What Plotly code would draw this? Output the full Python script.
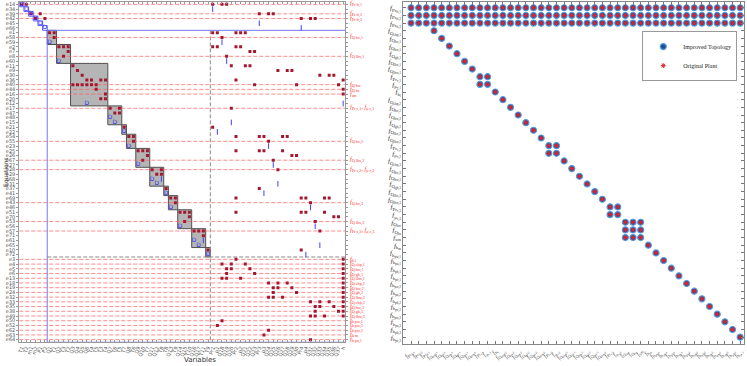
import plotly.graph_objects as go

# ---------------- LEFT PANEL DATA (structural matrix) ----------------
EQ_LABELS = ["e14","e34","e39","e42","e45","e66",
             "e1","e58","e59","e2","e7","e8","e60","e11","e9","e30","e36","e40","e44","e16",
             "e20","e12","e17","e47","e48","e15","e21","e22","e54","e55","e23","e25","e26","e67",
             "e27","e28","e29","e68","e31","e37","e41","e69","e43","e46","e51","e70","e53","e56",
             "e57","e71","e61","e65","e10","e72",
             "e3","e4","e5","e6","e13","e18","e19","e24","e32","e33","e35","e38","e49","e50",
             "e52","e62","e63","e64"]

VAR_LABELS = ["T1","T2","ṁ1","ṁ2","P1","P2",
              "Q1","Ṫ1","Q2","T3","Ṫ2","Q3","Q4","Q5","Q6","T4","T5","Ṫ3","Ṫ4",
              "Q7","T6","Ṫ5","T7","Q8","Ṫ6","Q9","Q10","Ṫ7","Q11","Q12","Ṫ8","T8",
              "Q13","Ṫ9","Q14","Q15","Ṫ10","Q16","Q17","Ṫ11","T9",
              "Pr1","μ1","Q18","Q19","Q20","Pr2","μ2","Q21","Q22","Q23","Pr3","μ3",
              "Q24","Q25","Q26","Q27","Q28","Q29","Q30","Pr4","μ4","Q31","Q32","Q33",
              "Q34","Q35","Q36","Q37","h"]

SINGLE_BLOCKS = [0, 1, 2, 3, 4, 5]
BLOCK_ROWS = [(6, 8), (9, 12), (13, 21), (22, 25), (26, 27), (28, 30), (31, 34),
              (35, 38), (39, 40), (41, 43), (44, 47), (48, 51), (52, 53)]
BLOCK_COLS = [(6, 7), (8, 10), (11, 18), (19, 21), (22, 22), (23, 24), (25, 27),
              (28, 30), (31, 31), (32, 33), (34, 36), (37, 39), (40, 40)]

BLOCK_INC = [(0, [0, 1]), (2, [2, 4]), (3, [3, 5]), (6, [6, 7]), (7, [7]),
             (9, [8, 9, 10]), (10, [10]), (11, [9]), (13, [11]), (14, [12]), (15, [13]),
             (16, [14, 15, 17, 18]), (17, [11, 12, 13, 14, 15, 16]), (18, [16]), (19, [18]),
             (20, [17, 18]), (22, [19, 21]), (23, [20, 21]), (26, [22]), (28, [23, 24]),
             (29, [24]), (31, [25, 26, 27]), (32, [27]), (33, [26]), (35, [28, 30]),
             (36, [29, 30]), (39, [31]), (41, [32, 33]), (42, [33]), (44, [34, 35, 36]),
             (45, [36]), (46, [35]), (48, [37, 38, 39]), (49, [39]), (52, [40])]

UPPER_INC = [(0, [41, 43, 44]), (2, [51, 53, 54]), (3, [60, 62, 63]), (6, [41, 42, 46, 47, 48]),
             (7, [43]), (9, [41, 42, 46, 47]), (10, [49, 50]), (11, [44]), (13, [45, 48, 49]),
             (14, [55, 57, 58]), (15, [64, 66, 67]), (16, [46, 69]), (17, [50, 59, 68]),
             (18, [69]), (19, [69]), (22, [45]), (26, [41]), (28, [46, 51, 52, 56, 57]),
             (29, [53]), (31, [46, 51, 52, 56]), (32, [58, 59]), (33, [54]), (35, [55]),
             (39, [51]), (41, [46, 60, 61, 65, 66]), (42, [62]), (44, [46, 60, 61, 65]),
             (45, [67, 68]), (46, [63]), (48, [64]), (52, [60])]

LOWER_INC = [(54, [46, 69]), (55, [43, 45, 48, 69]), (56, [44, 45, 49, 69]), (57, [44, 50, 69]),
             (58, [43, 44, 47, 69]), (59, [53, 55, 57, 69]), (60, [54, 55, 58, 69]),
             (61, [54, 59, 69]), (62, [53, 54, 56, 69]), (63, [62, 64, 66, 69]),
             (64, [63, 64, 67, 69]), (65, [63, 68, 69]), (66, [62, 63, 65, 69]),
             (67, [43]), (68, [42]), (69, [53]), (70, [52]), (71, [62])]

MATCH_D = [(0, 0), (1, 1), (2, 2), (3, 3), (4, 4), (5, 5), (8, 6), (12, 8), (21, 14),
           (24, 19), (25, 20), (27, 22), (30, 23), (34, 25), (37, 28), (38, 29), (40, 31),
           (43, 32), (47, 34), (50, 37), (51, 38), (53, 40)]
MATCH_I = [(37, 30), (50, 39), (1, 41), (4, 51), (5, 60), (8, 43), (12, 44), (21, 69),
           (25, 45), (27, 42), (30, 53), (34, 54), (38, 55), (40, 52), (43, 62), (47, 63),
           (51, 64), (53, 61)]

FAULT_ROWS = [0, 2, 3, 7, 11, 17, 18, 19, 22, 29, 33, 35, 42, 46, 48,
              54, 55, 56, 57, 58, 59, 60, 61, 62, 63, 64, 65, 66, 67, 68, 69, 70, 71]
FAULT_ROW_LABELS = ["<i>f</i><sub>Pr ft,1</sub>", "<i>f</i><sub>Pr ft,2</sub>",
                    "<i>f</i><sub>Pr ft,3</sub>", "<i>f</i><sub>Q hx,1</sub>",
                    "<i>f</i><sub>Q lhx,1</sub>", "<i>f</i><sub>Q hw</sub>",
                    "<i>f</i><sub>Q hs</sub>", "<i>f</i><sub>sm</sub>",
                    "<i>f</i><sub>Pr c,1</sub>, <i>f</i><sub>μ c,1</sub>",
                    "<i>f</i><sub>Q hx,2</sub>", "<i>f</i><sub>Q lhx,2</sub>",
                    "<i>f</i><sub>Pr c,2</sub>, <i>f</i><sub>μ c,2</sub>",
                    "<i>f</i><sub>Q hx,3</sub>", "<i>f</i><sub>Q lhx,3</sub>",
                    "<i>f</i><sub>Pr c,3</sub>, <i>f</i><sub>μ c,3</sub>",
                    "<i>f</i><sub>h l</sub>", "<i>f</i><sub>Q ehp,1</sub>",
                    "<i>f</i><sub>Q hw,1</sub>", "<i>f</i><sub>Q gh,1</sub>",
                    "<i>f</i><sub>Q lhw,1</sub>", "<i>f</i><sub>Q ehp,2</sub>",
                    "<i>f</i><sub>Q hw,2</sub>", "<i>f</i><sub>Q gh,2</sub>",
                    "<i>f</i><sub>Q lhw,2</sub>", "<i>f</i><sub>Q ehp,3</sub>",
                    "<i>f</i><sub>Q hw,3</sub>", "<i>f</i><sub>Q gh,3</sub>",
                    "<i>f</i><sub>Q lhw,3</sub>", "<i>f</i><sub>h pw,1</sub>",
                    "<i>f</i><sub>h pw,2</sub>", "<i>f</i><sub>h pw,3</sub>",
                    "<i>f</i><sub>h m</sub>", "<i>f</i><sub>h pa,1</sub>"]

# ---------------- RIGHT PANEL DATA (fault signature) ----------------
FAULTS = ["Pr<sub>ft,1</sub>", "Pr<sub>ft,2</sub>", "Pr<sub>ft,3</sub>",
          "Q<sub>ehp,1</sub>", "Q<sub>hx,1</sub>", "Q<sub>hw,1</sub>", "Q<sub>gh,1</sub>",
          "Q<sub>lhx,1</sub>", "Q<sub>lhw,1</sub>", "Pr<sub>c,1</sub>", "μ<sub>c,1</sub>",
          "h<sub>l</sub>",
          "Q<sub>ehp,2</sub>", "Q<sub>hx,2</sub>", "Q<sub>hw,2</sub>", "Q<sub>gh,2</sub>",
          "Q<sub>lhx,2</sub>", "Q<sub>lhw,2</sub>", "Pr<sub>c,2</sub>", "μ<sub>c,2</sub>",
          "Q<sub>ehp,3</sub>", "Q<sub>hx,3</sub>", "Q<sub>hw,3</sub>", "Q<sub>gh,3</sub>",
          "Q<sub>lhx,3</sub>", "Q<sub>lhw,3</sub>", "Pr<sub>c,3</sub>", "μ<sub>c,3</sub>",
          "Q<sub>hw</sub>", "Q<sub>hs</sub>", "sm", "h<sub>m</sub>",
          "h<sub>pw,1</sub>", "h<sub>pa,1</sub>", "h<sub>pb,1</sub>", "h<sub>pc,1</sub>",
          "h<sub>pw,2</sub>", "h<sub>pa,2</sub>", "h<sub>pb,2</sub>", "h<sub>pc,2</sub>",
          "h<sub>pw,3</sub>", "h<sub>pa,3</sub>", "h<sub>pb,3</sub>", "h<sub>pc,3</sub>"]
FULL_ROWS = [1, 2, 3]
GROUP_SIZES = [1, 1, 1, 1, 1, 1, 2, 1, 1, 1, 1, 1, 1, 1, 2, 1, 1, 1, 1, 1, 1, 2, 3,
               1, 1, 1, 1, 1, 1, 1, 1, 1, 1, 1, 1, 1]

NE = len(EQ_LABELS)
NV = len(VAR_LABELS)
NF = len(FAULTS)

LEFT_DOMAIN_X = [0.0258, 0.4625]

fig = go.Figure()

# --- left: blocks
bx, by = [], []
for (r0, r1), (c0, c1) in zip(BLOCK_ROWS, BLOCK_COLS):
    bx += [c0 - 0.5, c1 + 0.5, c1 + 0.5, c0 - 0.5, c0 - 0.5, None]
    by += [r0 - 0.5, r0 - 0.5, r1 + 0.5, r1 + 0.5, r0 - 0.5, None]
fig.add_trace(go.Scatter(x=bx, y=by, mode="lines", fill="toself", fillcolor="#b5b5b5",
                         line=dict(color="#505050", width=1), hoverinfo="skip",
                         showlegend=False, xaxis="x", yaxis="y"))
sx, sy = [], []
for s in SINGLE_BLOCKS:
    sx += [s - 0.5, s + 0.5, s + 0.5, s - 0.5, s - 0.5, None]
    sy += [s - 0.5, s - 0.5, s + 0.5, s + 0.5, s - 0.5, None]
fig.add_trace(go.Scatter(x=sx, y=sy, mode="lines", line=dict(color="#5a5aff", width=1),
                         hoverinfo="skip", showlegend=False, xaxis="x", yaxis="y"))

# red dashed fault lines
fx, fy = [], []
for r in FAULT_ROWS:
    fx += [-0.5, NV - 0.5, None]
    fy += [r, r, None]
fig.add_trace(go.Scatter(x=fx, y=fy, mode="lines",
                         line=dict(color="rgba(255,90,90,0.7)", width=1, dash="4px,2px"),
                         hoverinfo="skip", showlegend=False, xaxis="x", yaxis="y"))

# just-determined box and gray dashed separators
j0 = BLOCK_ROWS[0][0] - 0.5
jc = BLOCK_COLS[-1][1] + 0.5
jr = BLOCK_ROWS[-1][1] + 0.5
fig.add_trace(go.Scatter(x=[jc, jc, None, j0, NV - 0.5], y=[j0, NE - 0.5, None, jr, jr],
                         mode="lines", line=dict(color="#8a8a8a", width=1, dash="4px,2px"),
                         hoverinfo="skip", showlegend=False, xaxis="x", yaxis="y"))
fig.add_trace(go.Scatter(x=[j0, NV - 0.45, NV - 0.45, j0, j0],
                         y=[j0, j0, NE - 0.45, NE - 0.45, j0],
                         mode="lines", line=dict(color="#7878ff", width=1),
                         hoverinfo="skip", showlegend=False, xaxis="x", yaxis="y"))

# incidence dots
dx, dy = [], []
for grp in (BLOCK_INC, UPPER_INC, LOWER_INC):
    for r, cols in grp:
        for c in cols:
            dx.append(c)
            dy.append(r)
fig.add_trace(go.Scatter(x=dx, y=dy, mode="markers",
                         marker=dict(symbol="square", size=3, color="#a3172f"),
                         hoverinfo="skip", showlegend=False, xaxis="x", yaxis="y"))
# matchings
fig.add_trace(go.Scatter(x=[c for r, c in MATCH_D], y=[r for r, c in MATCH_D], mode="text",
                         text=["D"] * len(MATCH_D),
                         textfont=dict(size=6, color="#3030f0", family="DejaVu Sans"),
                         hoverinfo="skip", showlegend=False, xaxis="x", yaxis="y"))
fig.add_trace(go.Scatter(x=[c for r, c in MATCH_I], y=[r for r, c in MATCH_I], mode="markers",
                         marker=dict(symbol="line-ns", size=4, color="#4040ff",
                                     line=dict(color="#4040ff", width=1)),
                         hoverinfo="skip", showlegend=False, xaxis="x", yaxis="y"))

# --- right: fault signature matrix
px, py = [], []
for r in FULL_ROWS:
    for c in range(1, NF + 1):
        px.append(c)
        py.append(r)
start = len(FULL_ROWS) + 1
for g in GROUP_SIZES:
    for r in range(start, start + g):
        for c in range(start, start + g):
            px.append(c)
            py.append(r)
    start += g
fig.add_trace(go.Scatter(x=px, y=py, mode="markers", name="Improved Topology",
                         marker=dict(symbol="circle", size=6, color="#1d4f8f",
                                     line=dict(color="#4f9ce0", width=1.2)),
                         xaxis="x2", yaxis="y2"))
fig.add_trace(go.Scatter(x=px, y=py, mode="markers", name="Original Plant",
                         marker=dict(symbol="asterisk-open", size=4, color="#e8202a",
                                     line=dict(color="#e8202a", width=1)),
                         xaxis="x2", yaxis="y2"))

ftext = ["<i>f</i><sub>" + t + "</sub>" for t in FAULTS]

# red fault labels on the right of the structural matrix (x in paper units, y on the row axis)
annotations = [dict(text=t, x=LEFT_DOMAIN_X[1] + 0.004, y=r, xref="paper", yref="y",
                    xanchor="left", yanchor="middle", showarrow=False,
                    font=dict(size=6, color="#ff3030", family="Liberation Serif"))
               for r, t in zip(FAULT_ROWS, FAULT_ROW_LABELS)]
annotations += [
    dict(text="Equations", x=0.0, y=0.53, xref="paper", yref="paper", showarrow=False,
         xanchor="left", textangle=-90, font=dict(size=6, color="#333", family="DejaVu Sans")),
    dict(text="Variables", x=0.243, y=0.0, xref="paper", yref="paper", showarrow=False,
         yanchor="bottom", font=dict(size=7, color="#333", family="DejaVu Sans")),
]

fig.update_layout(
    width=747, height=366, margin=dict(l=0, r=0, t=0, b=0),
    paper_bgcolor="white", plot_bgcolor="white",
    xaxis=dict(domain=LEFT_DOMAIN_X, range=[-0.5, NV - 0.5], tickmode="array",
               tickvals=list(range(NV)), ticktext=VAR_LABELS, tickangle=-70,
               tickfont=dict(size=5, color="#555", family="DejaVu Sans"),
               ticks="inside", ticklen=2, tickcolor="#999", mirror="ticks",
               showline=True, linecolor="#999", linewidth=1, showgrid=False,
               zeroline=False, automargin=False),
    yaxis=dict(domain=[0.0656, 0.9945], range=[NE - 0.5, -0.5], tickmode="array",
               tickvals=list(range(NE)), ticktext=EQ_LABELS,
               tickfont=dict(size=5, color="#555", family="DejaVu Sans"),
               ticks="outside", ticklen=2, tickcolor="#999", mirror="ticks",
               showline=True, linecolor="#999", linewidth=1, showgrid=False,
               zeroline=False, automargin=False),
    xaxis2=dict(domain=[0.540, 0.996], range=[0, NF + 0.5], tickmode="array",
                tickvals=list(range(1, NF + 1)), ticktext=ftext, tickangle=-50,
                tickfont=dict(size=6, color="#444", family="Liberation Serif"),
                ticks="inside", ticklen=3, tickcolor="#777", mirror="ticks",
                showline=True, linecolor="#888", linewidth=1, showgrid=False,
                zeroline=False, automargin=False, anchor="y2"),
    yaxis2=dict(domain=[0.06, 0.9945], range=[NF + 0.9, 0.25], tickmode="array",
                tickvals=list(range(1, NF + 1)), ticktext=ftext,
                tickfont=dict(size=7, color="#333", family="Liberation Serif"),
                ticks="inside", ticklen=3, tickcolor="#777", mirror="ticks",
                showline=True, linecolor="#888", linewidth=1, showgrid=False,
                zeroline=False, automargin=False, anchor="x2"),
    legend=dict(x=0.987, y=0.915, xanchor="right", yanchor="top", bgcolor="white",
                bordercolor="#999", borderwidth=1, itemwidth=30, tracegroupgap=0,
                font=dict(size=6, family="Liberation Serif", color="#222")),
    annotations=annotations,
)

fig.write_html("out.html", config={"displayModeBar": False},
               post_script="document.body.style.margin='0';document.body.style.overflow='hidden';")
